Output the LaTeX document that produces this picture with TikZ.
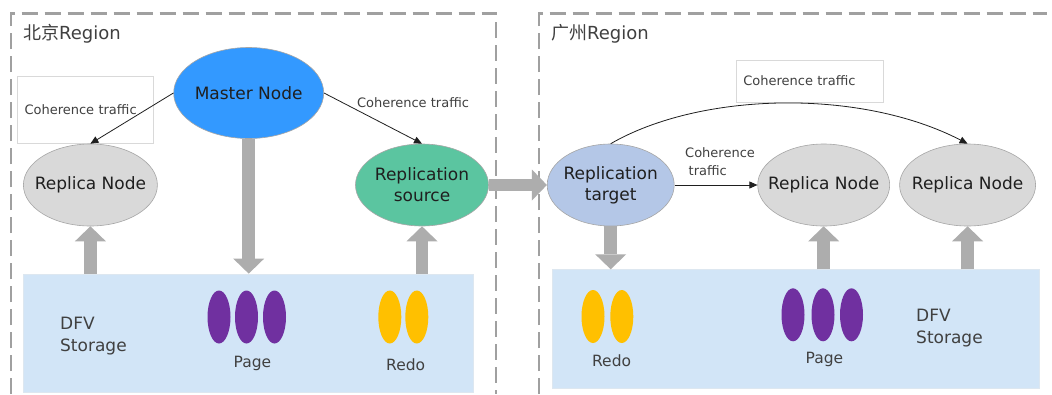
\documentclass[tikz,border=0pt]{standalone}
\usepackage{fontspec}
\setmainfont{DejaVu Sans}
\newfontfamily\cjk{Noto Sans CJK SC}
\usetikzlibrary{shapes.geometric,arrows.meta}
\definecolor{masterblue}{HTML}{3399FF}
\definecolor{replgray}{HTML}{D9D9D9}
\definecolor{srcgreen}{HTML}{5BC5A0}
\definecolor{tgtblue}{HTML}{B4C7E7}
\definecolor{storblue}{HTML}{D2E5F7}
\definecolor{storborder}{HTML}{DDE7F0}
\definecolor{blockgray}{HTML}{ADADAD}
\definecolor{pagepurple}{HTML}{7030A0}
\definecolor{redoyellow}{HTML}{FFC000}
\definecolor{regiongray}{HTML}{A0A0A0}
\definecolor{ellborder}{HTML}{A6A6A6}
\definecolor{nodetext}{HTML}{1F1F1F}
\definecolor{labeltext}{HTML}{404040}
\definecolor{boxborder}{HTML}{D9D9D9}
\begin{document}
\begin{tikzpicture}[x=1pt,y=-1pt,
  region/.style={draw=regiongray, line width=2.2pt, dash pattern=on 16pt off 7pt},
  ell/.style={ellipse, draw=ellborder, line width=0.6pt, inner sep=0pt},
  nodefont/.style={font=\fontsize{17}{21}\selectfont, text=nodetext, align=center},
  storage/.style={rectangle, fill=storblue, draw=storborder, line width=0.8pt, inner sep=0pt},
  oval/.style={ellipse, inner sep=0pt, minimum width=23pt, minimum height=53pt},
  smalltext/.style={font=\fontsize{13}{18}\selectfont, text=labeltext, inner sep=0pt},
  midtext/.style={font=\fontsize{15.5}{19}\selectfont, text=labeltext, inner sep=0pt},
  stortext/.style={font=\fontsize{17}{22}\selectfont, text=labeltext, inner sep=0pt, align=left},
  regiontext/.style={font=\fontsize{18}{22}\selectfont, text=labeltext, inner sep=0pt},
  cbox/.style={rectangle, draw=boxborder, fill=white, line width=0.6pt, font=\fontsize{13}{18}\selectfont, text=labeltext, align=left},
  blockarrow/.style={draw=blockgray, line width=12.5pt, -{Triangle[width=31pt,length=15pt,line width=0pt]}},
  conn/.style={draw=nodetext, line width=0.8pt, -{Triangle[width=7pt,length=8pt]}}
]
\useasboundingbox (0,0) rectangle (1052,394);
\fill[white] (0,0) rectangle (1052,394);

% regions
\draw[region] (11,394) -- (11,13.5) -- (496,13.5) -- (496,394);
\draw[region] (539,394) -- (539,13.5) -- (1047,13.5);
\node[regiontext, anchor=west] (rlabL) at (23,34) {{\cjk 北京}Region};
\node[regiontext, anchor=west] (rlabR) at (551,34) {{\cjk 广州}Region};

% storage boxes
\node[storage, minimum width=449.6pt, minimum height=118pt] (storL) at (248.5,333) {};
\node[storage, minimum width=487pt, minimum height=118.8pt] (storR) at (795.5,329.1) {};

% coherence label boxes
\node[cbox, minimum width=136pt, minimum height=67pt, text width=122pt, inner xsep=7pt] (cbL) at (85.5,110) {Coherence traffic};
\node[cbox, minimum width=146.5pt, minimum height=41.4pt, text width=132.9pt, inner xsep=6.8pt] (cbR) at (809.75,81.1) {Coherence traffic};

% ellipses
\node[ell, fill=masterblue, minimum width=150pt, minimum height=91pt, label={[nodefont]center:Master Node}] (master) at (248.7,93) {};
\node[ell, fill=replgray, minimum width=134pt, minimum height=82pt, label={[nodefont]center:Replica Node}] (repL) at (90.4,185) {};
\node[ell, fill=srcgreen, minimum width=133pt, minimum height=82pt, label={[nodefont]center:Replication\\source}] (src) at (422,185) {};
\node[ell, fill=tgtblue, minimum width=127pt, minimum height=82pt, label={[nodefont]center:Replication\\target}] (tgt) at (610.7,185) {};
\node[ell, fill=replgray, minimum width=132pt, minimum height=82pt, label={[nodefont]center:Replica Node}] (rep2) at (823.7,185) {};
\node[ell, fill=replgray, minimum width=136pt, minimum height=82pt, label={[nodefont]center:Replica Node}] (rep3) at (967.6,185) {};

% thin connectors
\draw[conn] (master.west) -- (repL.north);
\draw[conn] (master.east) -- (src.north);
\draw[conn] (tgt.east) -- (rep2.west);
\draw[conn] (tgt.north) .. controls (700,92) and (860,88) .. (rep3.north);
\node[smalltext] (clab1) at (413,103) {Coherence traffic};
\node[smalltext, anchor=west, align=left] (clab2) at (685,161.7) {Coherence\\\hspace{3.5pt}traffic};

% block arrows
\draw[blockarrow] (master.south) -- (master.south |- storL.north);
\draw[blockarrow] (storL.north -| repL) -- (repL.south);
\draw[blockarrow] (storL.north -| src) -- (src.south);
\draw[blockarrow] (src.east) -- (tgt.west);
\draw[blockarrow] (tgt.south) -- (tgt.south |- storR.north);
\draw[blockarrow] (storR.north -| rep2) -- (rep2.south);
\draw[blockarrow] (storR.north -| rep3) -- (rep3.south);

% storage contents left
\node[stortext, anchor=west] (dfvL) at (60,335.6) {DFV\\Storage};
\node[oval, fill=pagepurple] (pL1) at (219,317) {};
\node[oval, fill=pagepurple] (pL2) at (246.5,317) {};
\node[oval, fill=pagepurple] (pL3) at (274.5,317) {};
\node[midtext] (pageL) at (252.5,363.5) {Page};
\node[oval, fill=redoyellow] (rL1) at (389.8,317) {};
\node[oval, fill=redoyellow] (rL2) at (416.8,317) {};
\node[midtext] (redoL) at (405.7,365) {Redo};

% storage contents right
\node[oval, fill=redoyellow] (rR1) at (593,316.5) {};
\node[oval, fill=redoyellow] (rR2) at (621.8,316.5) {};
\node[midtext] (redoR) at (611.6,360.6) {Redo};
\node[oval, fill=pagepurple] (pR1) at (793,314.8) {};
\node[oval, fill=pagepurple] (pR2) at (823,314.8) {};
\node[oval, fill=pagepurple] (pR3) at (851.5,314.8) {};
\node[midtext] (pageR) at (824.4,359) {Page};
\node[stortext, anchor=west] (dfvR) at (916,328.4) {DFV\\Storage};
\end{tikzpicture}
\end{document}
